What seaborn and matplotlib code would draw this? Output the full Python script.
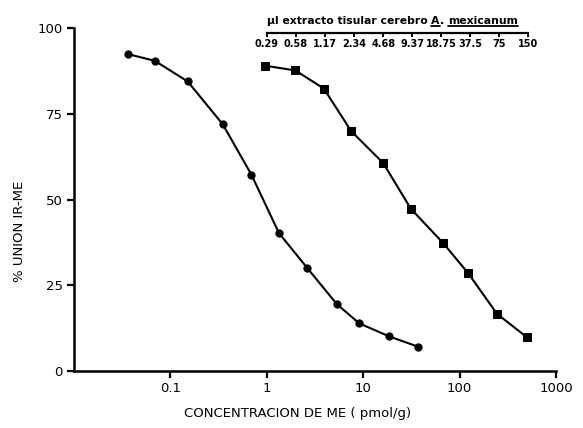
import matplotlib
matplotlib.use('Agg')
import matplotlib.pyplot as plt
import matplotlib.ticker as mticker
import matplotlib.transforms as mtransforms
from matplotlib.lines import Line2D
import seaborn as sns

# ---------------- data ----------------
me_conc = [0.036, 0.069, 0.151, 0.349, 0.692, 1.34, 2.62, 5.33, 9.1, 18.6, 37.0]
me_union = [92.5, 90.5, 84.5, 72.0, 57.3, 40.2, 30.1, 19.5, 13.9, 10.1, 7.1]

ext_conc = [0.95, 1.98, 3.91, 7.5, 16.1, 31.3, 67.2, 123, 244, 501]
ext_union = [89.1, 87.7, 82.4, 70.0, 60.7, 47.3, 37.4, 28.5, 16.7, 9.8]

x_ticks = [0.1, 1, 10, 100, 1000]
x_ticklabels = ['0.1', '1', '10', '100', '1000']
y_ticks = [0, 25, 50, 75, 100]
y_ticklabels = ['0', '25', '50', '75', '100']

extract_ul = [0.29, 0.58, 1.17, 2.34, 4.68, 9.37, 18.75, 37.5, 75, 150]
extract_labels = ['0.29', '0.58', '1.17', '2.34', '4.68', '9.37', '18.75', '37.5', '75', '150']
UL_PER_UNIT = 0.29

x_label = 'CONCENTRACION DE ME ( pmol/g)'
y_label = '% UNION IR-ME'
top_parts = [('µl extracto tisular cerebro ', False), ('A', True), ('. ', False), ('mexicanum', True)]

# ---------------- figure ----------------
sns.set_style('ticks')
plt.rcParams['font.family'] = ['DejaVu Sans']
plt.rcParams['text.color'] = 'black'
plt.rcParams['axes.labelcolor'] = 'black'
plt.rcParams['xtick.color'] = 'black'
plt.rcParams['ytick.color'] = 'black'
plt.rcParams['axes.edgecolor'] = 'black'

fig = plt.figure(figsize=(5.83, 4.28), dpi=100)
ax = fig.add_axes([74 / 583, 57 / 428, 482 / 583, 342.7 / 428])

sns.lineplot(x=me_conc, y=me_union, ax=ax, color='black', linewidth=1.5,
             marker='o', markersize=5.2, markeredgecolor='black',
             markerfacecolor='black', estimator=None, sort=False)
sns.lineplot(x=ext_conc, y=ext_union, ax=ax, color='black', linewidth=1.5,
             marker='s', markersize=5.6, markeredgecolor='black',
             markerfacecolor='black', estimator=None, sort=False)

ax.set_xscale('log')
ax.set_xlim(0.01, 1000)
ax.set_ylim(0, 100)
ax.set_xticks(x_ticks)
ax.set_xticklabels(x_ticklabels)
ax.xaxis.set_minor_locator(mticker.NullLocator())
ax.set_yticks(y_ticks)
ax.set_yticklabels(y_ticklabels)

for s in ['top', 'right']:
    ax.spines[s].set_visible(False)
for s in ['left', 'bottom']:
    ax.spines[s].set_linewidth(1.8)
    ax.spines[s].set_color('black')

ax.tick_params(axis='both', direction='out', length=5, width=1.6,
               labelsize=9.5, colors='black', pad=3)

ax.set_xlabel(x_label, fontsize=9.5, color='black')
ax.set_ylabel(y_label, fontsize=9.5, color='black')
ax.xaxis.set_label_coords(0.463, -0.106)
ax.yaxis.set_label_coords(-0.100, 0.408)

# ---------------- secondary (top) axis ----------------
sec = ax.secondary_xaxis(0.986, functions=(lambda x: x * UL_PER_UNIT,
                                           lambda x: x / UL_PER_UNIT))
sec.set_alignment('bottom')
sec.set_xticks(extract_ul)
sec.set_xticklabels(extract_labels)
sec.xaxis.set_minor_locator(mticker.NullLocator())
sec.spines['bottom'].set_bounds(extract_ul[0], extract_ul[-1])
sec.spines['bottom'].set_linewidth(1.6)
sec.spines['bottom'].set_color('black')
sec.tick_params(axis='x', direction='out', length=3, width=1.4,
                labelsize=7, pad=1.5, colors='black')
for lab in sec.get_xticklabels():
    lab.set_fontweight('bold')

# title of top axis with underlined parts
trans = mtransforms.blended_transform_factory(ax.transData, ax.transAxes)
texts = []
prev = None
for txt, ul in top_parts:
    if prev is None:
        t = ax.text(1.0, 1.008, txt, transform=trans, ha='left', va='bottom',
                    fontsize=7.8, fontweight='bold', color='black')
    else:
        t = ax.annotate(txt, xy=(1, 0), xycoords=prev, ha='left', va='bottom',
                        fontsize=7.8, fontweight='bold', color='black')
    texts.append((t, ul))
    prev = t

fig.canvas.draw()
renderer = fig.canvas.get_renderer()
inv = fig.transFigure.inverted()
for t, ul in texts:
    if ul:
        bb = t.get_window_extent(renderer)
        (x0, y0), (x1, y1) = inv.transform([(bb.x0, bb.y0), (bb.x1, bb.y0)])
        fig.add_artist(Line2D([x0, x1], [y0, y1], transform=fig.transFigure,
                              color='black', linewidth=1.3))

fig.savefig('out.png', dpi=100)
